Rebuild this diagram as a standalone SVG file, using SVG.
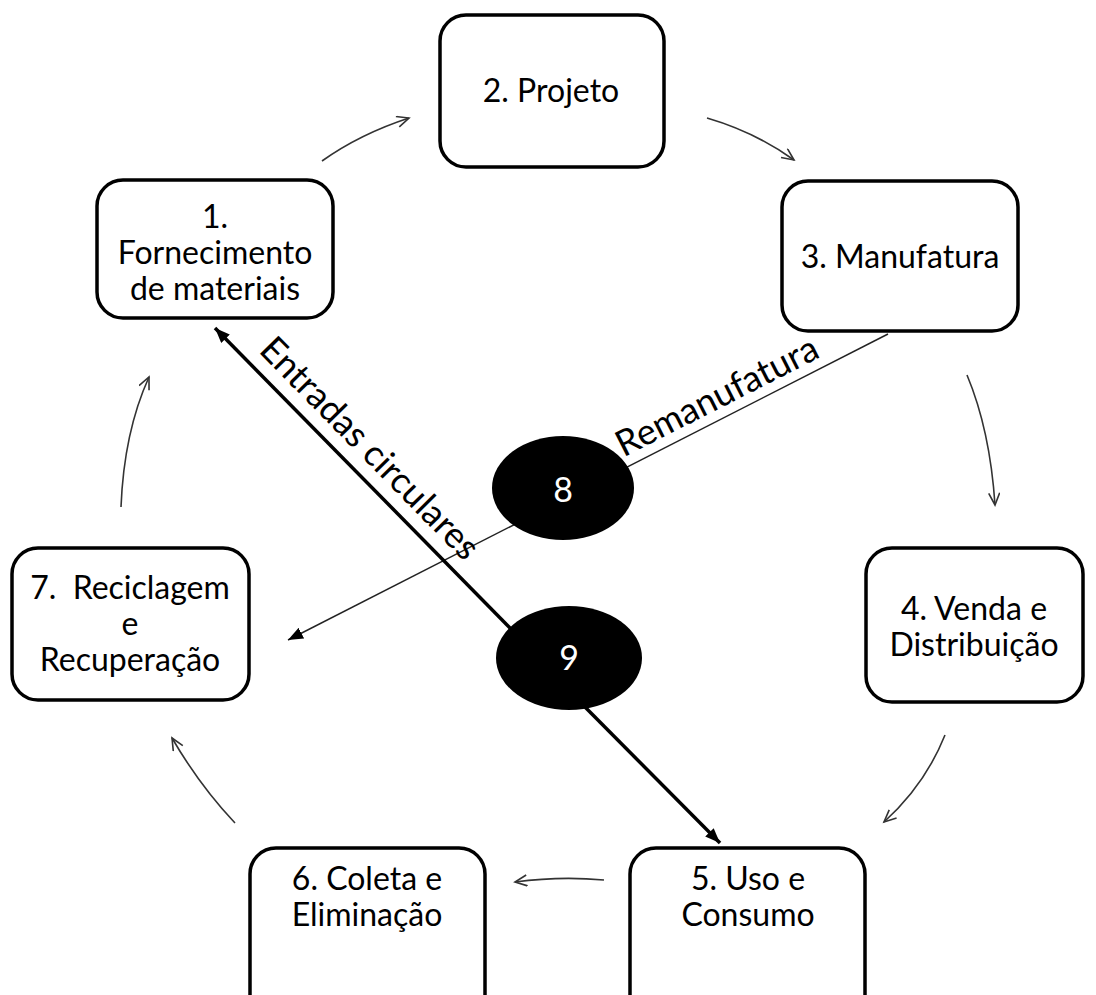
<svg xmlns="http://www.w3.org/2000/svg" width="1096" height="995" viewBox="0 0 1096 995">
<style>
.box{fill:#fff;stroke:#000;stroke-width:3.5}
.t{font-family:Lato,"Liberation Sans",sans-serif;font-size:32px;fill:#000;text-anchor:middle}
.lbl{font-family:Lato,"Liberation Sans",sans-serif;font-size:36px;fill:#000;text-anchor:middle}
.num{font-family:Lato,"Liberation Sans",sans-serif;font-size:34px;fill:#fff;text-anchor:middle}
.cyc{fill:none;stroke:#333;stroke-width:1.6}
.thick{fill:none;stroke:#000;stroke-width:3.5}
.thin{fill:none;stroke:#222;stroke-width:1.5}
</style>
<defs>
<marker id="open" markerUnits="userSpaceOnUse" markerWidth="16" markerHeight="14" refX="13" refY="6" orient="auto">
<path d="M1,0.5 L13,6 L1,11.5" fill="none" stroke="#333" stroke-width="1.6"/>
</marker>
<marker id="fill" markerUnits="userSpaceOnUse" markerWidth="18" markerHeight="14" refX="15" refY="6" orient="auto">
<path d="M0,0 L15,6 L0,12 z" fill="#000"/>
</marker>
</defs>
<rect width="1096" height="995" fill="#fff"/>
<g id="connectors">
<path class="cyc" d="M322,161 Q360,134 409,118" marker-end="url(#open)"/>
<path class="cyc" d="M707,118 Q755,132 794,160" marker-end="url(#open)"/>
<path class="cyc" d="M967,375 Q990,430 995,505" marker-end="url(#open)"/>
<path class="cyc" d="M945,735 Q925,785 884,822" marker-end="url(#open)"/>
<path class="cyc" d="M604,880 Q560,876 515,882" marker-end="url(#open)"/>
<path class="cyc" d="M235,823 Q200,786 172,738" marker-end="url(#open)"/>
<path class="cyc" d="M121,507 Q124,432 149,377" marker-end="url(#open)"/>
<line class="thin" x1="888" y1="334" x2="288" y2="640" marker-end="url(#fill)"/>
<line class="thick" x1="512" y1="630" x2="215" y2="328" marker-end="url(#fill)"/>
<line class="thick" x1="585" y1="707" x2="720" y2="843" marker-end="url(#fill)"/>
<text class="lbl" transform="translate(352,466) rotate(45.5)" y="-13">Entradas circulares</text>
<text class="lbl" transform="translate(727,416) rotate(-27)" y="-10">Remanufatura</text>
</g>
<g id="n2"><rect class="box" x="440" y="15" width="224" height="152" rx="26"/><text class="t" x="551" y="102">2. Projeto</text></g>
<g id="n1"><rect class="box" x="97" y="180" width="236" height="138" rx="26"/><text class="t" x="215" y="228">1.</text><text class="t" x="215" y="264">Fornecimento</text><text class="t" x="215" y="300">de materiais</text></g>
<g id="n3"><rect class="box" x="782" y="181" width="236" height="150" rx="26"/><text class="t" x="900" y="268">3. Manufatura</text></g>
<g id="n4"><rect class="box" x="866" y="548" width="217" height="154" rx="26"/><text class="t" x="974" y="620">4. Venda e</text><text class="t" x="974" y="656">Distribuição</text></g>
<g id="n5"><rect class="box" x="630" y="848" width="235" height="180" rx="26"/><text class="t" x="748" y="890">5. Uso e</text><text class="t" x="748" y="926">Consumo</text></g>
<g id="n6"><rect class="box" x="250" y="848" width="235" height="180" rx="26"/><text class="t" x="367" y="890">6. Coleta e</text><text class="t" x="367" y="926">Eliminação</text></g>
<g id="n7"><rect class="box" x="12" y="548" width="237" height="152" rx="26"/><text class="t" x="130" y="599" xml:space="preserve">7.  Reciclagem</text><text class="t" x="130" y="635">e</text><text class="t" x="130" y="671">Recuperação</text></g>
<g id="n8"><ellipse cx="563" cy="488" rx="71" ry="52" fill="#000"/><text class="num" x="563" y="502">8</text></g>
<g id="n9"><ellipse cx="569" cy="658" rx="73" ry="52" fill="#000"/><text class="num" x="569" y="670">9</text></g>
</svg>
